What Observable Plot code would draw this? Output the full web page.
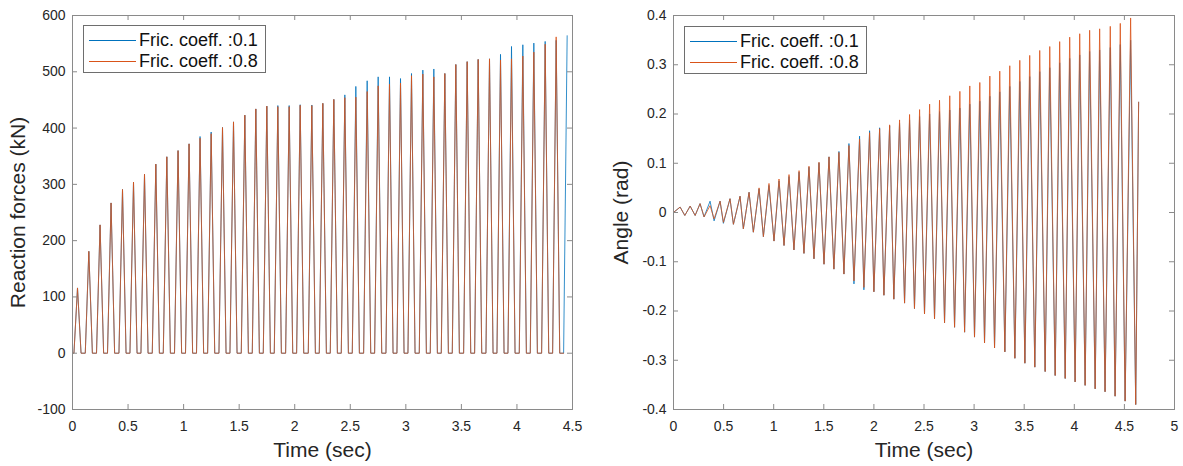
<!DOCTYPE html>
<html>
<head>
<meta charset="utf-8">
<script src="https://cdn.jsdelivr.net/npm/d3@7"></script>
<script src="https://cdn.jsdelivr.net/npm/@observablehq/plot@0.6"></script>
<style>
  body { margin: 0; background: #fff; }
  #wrap { position: relative; width: 1183px; height: 466px; overflow: hidden;
          font-family: "Liberation Sans", Arial, Helvetica, sans-serif; color: #262626; }
  .panel { position: absolute; top: 0; }
  .legend { position: absolute; border: 1px solid #6e6e6e; background: #fff; box-sizing: border-box; }
  .legend .row { position: absolute; left: 0; height: 20px; width: 100%; }
  .legend .sw { position: absolute; left: 5px; width: 47px; top: 10px; height: 0; border-top: 1px solid; }
  .legend .lab { position: absolute; left: 55px; top: 0; font-size: 18px; line-height: 20px; white-space: nowrap; color: #111; }
</style>
</head>
<body>
<div id="wrap"></div>
<script>
// ---------------- DATA ----------------
const seriesNames = ["Fric. coeff. :0.1", "Fric. coeff. :0.8"];

// Left panel: reaction force spikes (kN)
const forcePeakTimes = [0.045, 0.147, 0.248, 0.347, 0.450, 0.549, 0.648, 0.750, 0.849, 0.950,
  1.049, 1.148, 1.248, 1.350, 1.449, 1.551, 1.650, 1.749, 1.848, 1.950,
  2.049, 2.154, 2.253, 2.352, 2.451, 2.550, 2.652, 2.751, 2.853, 2.952,
  3.051, 3.153, 3.252, 3.351, 3.450, 3.552, 3.651, 3.753, 3.852, 3.951,
  4.053, 4.152, 4.254, 4.353, 4.452];
const forcePeaks01 = [116, 181, 228, 267, 291, 304, 318, 336, 349, 360,
  372, 385, 393, 401, 411, 423, 434, 439, 440, 440,
  441.5, 441, 444, 451, 459, 474, 484, 491, 491, 488,
  497, 503, 505, 497, 513, 518, 522, 523, 531, 545,
  548, 551, 554, 556, 564];
const forcePeaks08 = [116, 181, 228, 267, 291, 304, 318, 336, 349, 360,
  372, 382, 390, 401, 411, 423, 434, 439, 438, 438,
  440.5, 440, 444, 451, 454, 455, 465, 475, 478, 480,
  493, 496, 491, 497, 513, 518, 522, 523, 521, 523,
  528, 535, 549, 562];
const forceSpikeHalfWidth = 0.032;   // s, half base width of each spike
const forceEnd08 = 4.42;             // s, last baseline point of the 0.8 series

// Right panel: angle oscillation (rad)
const angleCrestTimes = [0.066, 0.166, 0.265, 0.365, 0.465, 0.564, 0.664, 0.754, 0.854, 0.953,
  1.053, 1.153, 1.253, 1.352, 1.452, 1.552, 1.651, 1.751, 1.857, 1.957,
  2.057, 2.157, 2.256, 2.356, 2.456, 2.556, 2.655, 2.757, 2.858, 2.957,
  3.057, 3.157, 3.256, 3.356, 3.456, 3.555, 3.655, 3.755, 3.854, 3.954,
  4.054, 4.153, 4.253, 4.359, 4.459, 4.562];
const angleCrest08 = [0.011, 0.013, 0.018, 0.014, 0.023, 0.028, 0.033, 0.041, 0.050, 0.059,
  0.068, 0.077, 0.085, 0.094, 0.102, 0.113, 0.122, 0.136, 0.149, 0.162,
  0.170, 0.178, 0.188, 0.199, 0.209, 0.220, 0.228, 0.237, 0.246, 0.257,
  0.264, 0.277, 0.287, 0.298, 0.309, 0.319, 0.329, 0.337, 0.347, 0.356,
  0.363, 0.370, 0.373, 0.378, 0.384, 0.395];
const angleCrest01 = [0.011, 0.013, 0.018, 0.023, 0.023, 0.028, 0.033, 0.041, 0.048, 0.055,
  0.064, 0.073, 0.082, 0.092, 0.101, 0.113, 0.124, 0.140, 0.155, 0.166,
  0.172, 0.176, 0.181, 0.188, 0.195, 0.200, 0.205, 0.208, 0.212, 0.220,
  0.226, 0.236, 0.245, 0.256, 0.266, 0.276, 0.286, 0.294, 0.304, 0.313,
  0.320, 0.327, 0.330, 0.335, 0.341, 0.350];
const angleTroughTimes = [0.113, 0.216, 0.305, 0.405, 0.498, 0.598, 0.697, 0.797, 0.897, 1.003,
  1.103, 1.202, 1.302, 1.402, 1.502, 1.601, 1.701, 1.801, 1.900, 2.000,
  2.100, 2.199, 2.306, 2.405, 2.505, 2.605, 2.705, 2.805, 2.905, 3.004,
  3.104, 3.204, 3.307, 3.407, 3.507, 3.606, 3.709, 3.809, 3.909, 4.008,
  4.108, 4.208, 4.307, 4.407, 4.507, 4.613];
const angleTrough08 = [-0.006, -0.006, -0.009, -0.013, -0.020, -0.024, -0.033, -0.040, -0.049, -0.058,
  -0.067, -0.076, -0.083, -0.094, -0.105, -0.115, -0.125, -0.139, -0.152, -0.161,
  -0.168, -0.176, -0.184, -0.195, -0.206, -0.216, -0.224, -0.233, -0.243, -0.253,
  -0.265, -0.275, -0.283, -0.296, -0.306, -0.314, -0.323, -0.331, -0.337, -0.344,
  -0.351, -0.358, -0.364, -0.373, -0.383, -0.390];
const angleTrough01 = [-0.006, -0.006, -0.009, -0.017, -0.022, -0.024, -0.033, -0.040, -0.049, -0.058,
  -0.067, -0.076, -0.083, -0.094, -0.105, -0.115, -0.125, -0.145, -0.157, -0.161,
  -0.168, -0.176, -0.184, -0.195, -0.206, -0.216, -0.224, -0.233, -0.243, -0.253,
  -0.265, -0.275, -0.283, -0.296, -0.306, -0.314, -0.323, -0.331, -0.337, -0.344,
  -0.351, -0.358, -0.364, -0.373, -0.383, -0.390];
const angleStart = [0, 0];       // [time, angle]
const angleEnd = [4.642, 0.224]; // [time, angle]

// Axes & labels
const forceXTicks = [0, 0.5, 1, 1.5, 2, 2.5, 3, 3.5, 4, 4.5];
const forceYTicks = [-100, 0, 100, 200, 300, 400, 500, 600];
const angleXTicks = [0, 0.5, 1, 1.5, 2, 2.5, 3, 3.5, 4, 4.5, 5];
const angleYTicks = [-0.4, -0.3, -0.2, -0.1, 0, 0.1, 0.2, 0.3, 0.4];
const xLabel = "Time (sec)";
const forceYLabel = "Reaction forces (kN)";
const angleYLabel = "Angle (rad)";

// ---------------- TABLES ----------------
function forceRows(times, peaks, name, endTime) {
  const rows = [{t: 0, v: 0, s: name}];
  peaks.forEach((p, i) => {
    const t = times[i];
    rows.push({t: t - forceSpikeHalfWidth, v: 0, s: name});
    rows.push({t, v: p, s: name});
    if (i < peaks.length - 1 || endTime != null) rows.push({t: t + forceSpikeHalfWidth, v: 0, s: name});
  });
  if (endTime != null) rows.push({t: endTime, v: 0, s: name});
  return rows;
}
function angleRows(crests, troughs, name) {
  const rows = [{t: angleStart[0], v: angleStart[1], s: name}];
  crests.forEach((c, i) => {
    rows.push({t: angleCrestTimes[i], v: c, s: name});
    rows.push({t: angleTroughTimes[i], v: troughs[i], s: name});
  });
  rows.push({t: angleEnd[0], v: angleEnd[1], s: name});
  return rows;
}
const force01 = forceRows(forcePeakTimes, forcePeaks01, seriesNames[0], null);
const force08 = forceRows(forcePeakTimes, forcePeaks08, seriesNames[1], forceEnd08);
const angle01 = angleRows(angleCrest01, angleTrough01, seriesNames[0]);
const angle08 = angleRows(angleCrest08, angleTrough08, seriesNames[1]);

// ---------------- STYLE ----------------
const colors = ["#0072BD", "#D95319"];
const boxColor = "#8a8a8a";
const textColor = "#262626";
const H = 466, MT = 15, MB = 57, TICK = 5;
const fmt = d => String(d);

function panel({width, ml, mr, xDomain, yDomain, xTicks, yTicks, yLabel, yLabelDx, rows}) {
  const innerW = width - ml - mr, innerH = H - MT - MB;
  return Plot.plot({
    width, height: H, marginLeft: ml, marginRight: mr, marginTop: MT, marginBottom: MB,
    style: {fontFamily: '"Liberation Sans", Arial, sans-serif', fontSize: "14px", color: textColor, background: "#fff"},
    x: {domain: xDomain, axis: null},
    y: {domain: yDomain, axis: null},
    color: {domain: seriesNames, range: colors},
    marks: [
      Plot.line(rows[0], {x: "t", y: "v", stroke: colors[0], strokeWidth: 0.8}),
      Plot.line(rows[1], {x: "t", y: "v", stroke: colors[1], strokeWidth: 0.8}),
      Plot.frame({stroke: boxColor, strokeWidth: 1}),
      Plot.tickX(xTicks, {x: d => d, stroke: boxColor, insetTop: innerH - TICK}),
      Plot.tickX(xTicks, {x: d => d, stroke: boxColor, insetBottom: innerH - TICK}),
      Plot.tickY(yTicks, {y: d => d, stroke: boxColor, insetRight: innerW - TICK}),
      Plot.tickY(yTicks, {y: d => d, stroke: boxColor, insetLeft: innerW - TICK}),
      Plot.axisX(xTicks, {tickSize: 0, tickPadding: 12, tickFormat: fmt, label: null, fontSize: 14, fill: textColor}),
      Plot.axisY(yTicks, {tickSize: 0, tickPadding: 7, tickFormat: fmt, label: null, fontSize: 14, fill: textColor}),
      Plot.text([xLabel], {frameAnchor: "bottom", dy: 41, text: d => d, fontSize: 21, fill: textColor, lineAnchor: "middle", textAnchor: "middle"}),
      Plot.text([yLabel], {frameAnchor: "left", dx: yLabelDx, rotate: -90, text: d => d, fontSize: 21, fill: textColor, lineAnchor: "middle", textAnchor: "middle"})
    ]
  });
}

function legend(left, top) {
  const lg = document.createElement("div");
  lg.className = "legend";
  lg.style.left = left + "px"; lg.style.top = top + "px";
  lg.style.width = "183px"; lg.style.height = "48px";
  seriesNames.forEach((n, i) => {
    const r = document.createElement("div");
    r.className = "row";
    r.style.top = (4 + i * 21) + "px";
    r.innerHTML = `<div class="sw" style="border-color:${colors[i]}"></div><div class="lab">${n}</div>`;
    lg.appendChild(r);
  });
  return lg;
}

const wrap = document.getElementById("wrap");
const left = panel({width: 600, ml: 72, mr: 28, xDomain: [0, 4.5], yDomain: [-100, 600],
  xTicks: forceXTicks, yTicks: forceYTicks, yLabel: forceYLabel, yLabelDx: -54, rows: [force01, force08]});
left.classList.add("panel"); left.style.left = "0px";
const right = panel({width: 583, ml: 73, mr: 9, xDomain: [0, 5], yDomain: [-0.4, 0.4],
  xTicks: angleXTicks, yTicks: angleYTicks, yLabel: angleYLabel, yLabelDx: -52, rows: [angle01, angle08]});
right.classList.add("panel"); right.style.left = "600px";
wrap.appendChild(left);
wrap.appendChild(right);
wrap.appendChild(legend(83, 25));
wrap.appendChild(legend(684, 26));
</script>
</body>
</html>
